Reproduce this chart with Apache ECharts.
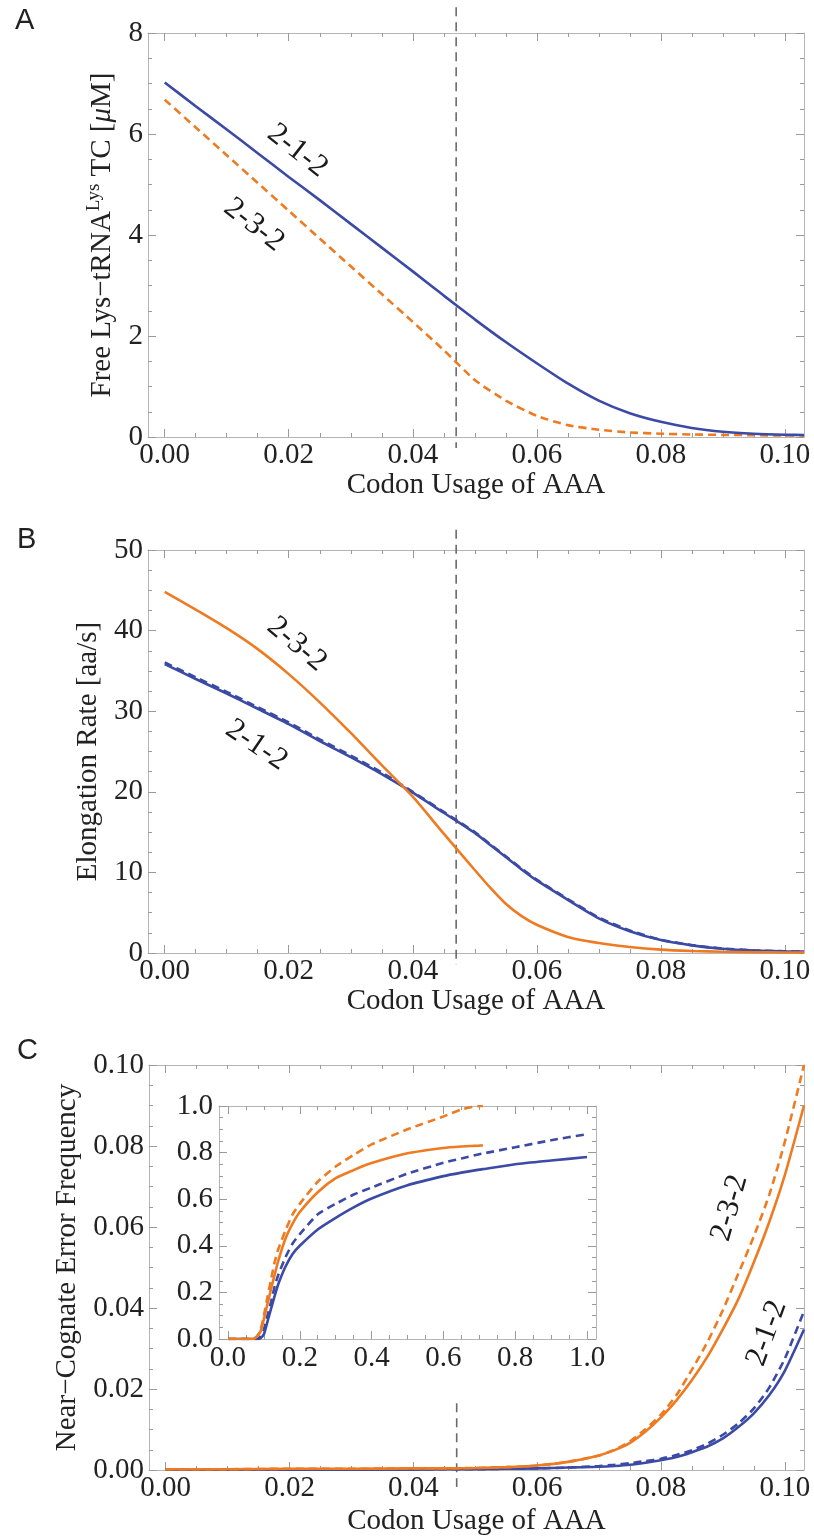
<!DOCTYPE html>
<html><head><meta charset="utf-8">
<script src="https://cdn.jsdelivr.net/npm/echarts@6/dist/echarts.min.js"></script>
<style>html,body{margin:0;padding:0;background:#fff}#c{width:814px;height:1538px}</style>
</head><body><div id="c"></div>
<script>
// ---------- DATA ----------
// Panel A: Free Lys-tRNA^Lys TC [uM] vs codon usage of AAA
const codonA = [0, 0.005, 0.01, 0.015, 0.02, 0.025, 0.03, 0.035, 0.04, 0.045, 0.05, 0.055, 0.06, 0.065, 0.07, 0.075, 0.08, 0.085, 0.09, 0.095, 0.1, 0.1031];
const freeTC_212 = [7.02, 6.55, 6.09, 5.62, 5.15, 4.69, 4.22, 3.75, 3.28, 2.80, 2.33, 1.88, 1.46, 1.06, 0.72, 0.47, 0.3, 0.18, 0.105, 0.065, 0.045, 0.04];
const freeTC_232 = [6.68, 6.13, 5.58, 5.03, 4.48, 3.93, 3.38, 2.83, 2.28, 1.72, 1.13, 0.72, 0.42, 0.235, 0.145, 0.09, 0.065, 0.05, 0.042, 0.036, 0.03, 0.028];

// Panel B: elongation rate [aa/s]
const codonB = [0, 0.005, 0.01, 0.015, 0.02, 0.025, 0.03, 0.035, 0.04, 0.045, 0.05, 0.0525, 0.055, 0.0575, 0.06, 0.065, 0.07, 0.075, 0.08, 0.085, 0.09, 0.095, 0.1, 0.1031];
const rate_232 = [44.8, 42.6, 40.3, 37.7, 34.6, 31.1, 27.3, 23.3, 19.4, 14.8, 10.3, 8.1, 6.1, 4.6, 3.5, 2.0, 1.25, 0.75, 0.42, 0.25, 0.15, 0.1, 0.07, 0.05];
const rate_212 = [35.85, 34.0, 32.2, 30.3, 28.4, 26.3, 24.3, 22.2, 19.9, 17.4, 14.9, 13.4, 11.9, 10.4, 9.0, 6.6, 4.3, 2.7, 1.6, 0.95, 0.52, 0.3, 0.2, 0.17];
const rate_212_dashed = [36.05, 34.2, 32.4, 30.5, 28.6, 26.5, 24.5, 22.4, 20.0, 17.5, 15.0, 13.5, 12.0, 10.5, 9.1, 6.7, 4.4, 2.8, 1.65, 0.98, 0.55, 0.32, 0.21, 0.18];

// Panel C: near-cognate error frequency
const codonC = [0, 0.01, 0.02, 0.03, 0.04, 0.045, 0.05, 0.055, 0.06, 0.065, 0.07, 0.0725, 0.075, 0.0775, 0.08, 0.0825, 0.085, 0.0875, 0.09, 0.0925, 0.095, 0.0975, 0.1, 0.1031];
const err_232 = [0.0002, 0.0002, 0.0003, 0.0003, 0.0004, 0.0004, 0.0005, 0.0007, 0.0011, 0.002, 0.0036, 0.0049, 0.0067, 0.0095, 0.013, 0.0172, 0.0222, 0.028, 0.0348, 0.0422, 0.0513, 0.0613, 0.0728, 0.090];
const err_232_dashed = [0.0002, 0.0002, 0.0003, 0.0003, 0.0004, 0.0004, 0.0005, 0.0007, 0.0011, 0.002, 0.0036, 0.005, 0.0071, 0.0101, 0.0137, 0.0185, 0.0248, 0.0316, 0.0395, 0.0485, 0.0577, 0.068, 0.081, 0.100];
const err_212 = [0.0001, 0.0001, 0.0001, 0.0001, 0.0001, 0.0002, 0.0002, 0.0003, 0.0004, 0.0006, 0.0008, 0.001, 0.0013, 0.0018, 0.0024, 0.0032, 0.0044, 0.0058, 0.0078, 0.0106, 0.014, 0.0185, 0.0245, 0.0347];
const err_212_dashed = [0.0001, 0.0001, 0.0001, 0.0001, 0.0001, 0.0002, 0.0002, 0.0003, 0.0004, 0.0006, 0.001, 0.0013, 0.0017, 0.0022, 0.0028, 0.0037, 0.0049, 0.0065, 0.0087, 0.0115, 0.0152, 0.0204, 0.0275, 0.0392];

// Inset of panel C
const codonInset = [0, 0.05, 0.07, 0.08, 0.09, 0.1, 0.11, 0.12, 0.13, 0.14, 0.16, 0.18, 0.2, 0.25, 0.3, 0.35, 0.4, 0.5, 0.6, 0.65, 0.7, 0.71, 0.8, 0.9, 1.0];
const inset_232_dashed = [0, 0, 0, 0.01, 0.035, 0.1, 0.18, 0.255, 0.33, 0.385, 0.465, 0.535, 0.58, 0.675, 0.74, 0.79, 0.835, 0.9, 0.955, 0.985, 1.0, 1.0, null, null, null];
const inset_232 = [0, 0, 0, 0.01, 0.03, 0.085, 0.15, 0.215, 0.275, 0.335, 0.43, 0.495, 0.545, 0.63, 0.69, 0.725, 0.755, 0.797, 0.82, 0.826, 0.83, 0.831, null, null, null];
const inset_212_dashed = [0, 0, 0, 0, 0.01, 0.04, 0.1, 0.16, 0.225, 0.275, 0.35, 0.41, 0.45, 0.535, 0.58, 0.62, 0.65, 0.71, 0.756, 0.775, 0.793, 0.796, 0.823, 0.853, 0.879];
const inset_212 = [0, 0, 0, 0, 0.003, 0.02, 0.075, 0.13, 0.185, 0.235, 0.31, 0.365, 0.4, 0.47, 0.52, 0.565, 0.603, 0.66, 0.699, 0.714, 0.727, 0.729, 0.75, 0.766, 0.781];

// Reference codon usage (vertical dashed line)
const refUsage = 0.047;

// Tick labels
const xTicksMain = [0, 0.02, 0.04, 0.06, 0.08, 0.10];
const yTicksA = [0, 2, 4, 6, 8];
const yTicksB = [0, 10, 20, 30, 40, 50];
const yTicksC = [0, 0.02, 0.04, 0.06, 0.08, 0.10];
const ticksInset = [0, 0.2, 0.4, 0.6, 0.8, 1.0];

// Curve labels
const curveNames = ['2-1-2', '2-3-2'];

// ---------- STYLE ----------
const FONT = 'Liberation Serif';
const TXT = '#222';
const BLUE = '#3b4aa5';
const ORANGE = '#ee7b22';
const FRAME = '#b5b5b5';
const TICK = '#9a9a9a';
const FS = 29;

function steps(a, b, s) { const r = []; for (let v = a; v <= b + 1e-9; v += s) r.push(+v.toFixed(6)); return r; }

function axesFor(gi, dim, range, majors, minors, fmt, labelMargin, name, nameGap, nameStyle) {
  const pos = dim === 'x' ? ['bottom', 'top'] : ['left', 'right'];
  const base = { gridIndex: gi, type: 'value', min: range[0], max: range[1], splitLine: { show: false }, axisPointer: { show: false }, silent: true };
  const line = { show: true, onZero: false, lineStyle: { color: FRAME, width: 1 } };
  const noLine = { show: false, onZero: false };
  const tk = (vals, len) => ({ show: true, inside: true, length: len, customValues: vals, lineStyle: { color: TICK, width: 1 } });
  const main = Object.assign({}, base, {
    position: pos[0], axisLine: line, axisTick: tk(majors, 8),
    axisLabel: { show: true, customValues: majors, formatter: fmt, margin: labelMargin, fontFamily: FONT, fontSize: FS, color: TXT }
  });
  if (name) {
    Object.assign(main, { name: name, nameLocation: 'middle', nameGap: nameGap,
      nameTextStyle: Object.assign({ fontFamily: FONT, fontSize: FS, color: TXT }, nameStyle || {}) });
    if (dim === 'y') main.nameRotate = 90;
  }
  return [
    main,
    Object.assign({}, base, { position: pos[0], axisLine: noLine, axisTick: tk(minors, 4), axisLabel: { show: false } }),
    Object.assign({}, base, { position: pos[1], axisLine: line, axisTick: tk(majors, 8), axisLabel: { show: false } }),
    Object.assign({}, base, { position: pos[1], axisLine: noLine, axisTick: tk(minors, 4), axisLabel: { show: false } })
  ];
}

const xRange = [-0.0027, 0.1031];
const fmt2 = v => v.toFixed(2);
const fmt1 = v => v.toFixed(1);
const fmt0 = v => String(Math.round(v));
const xMinor = steps(0, 0.1, 0.005);

const grids = [
  { left: 148, top: 33, width: 656, height: 404 },
  { left: 148, top: 550, width: 656, height: 403 },
  { left: 149, top: 1065, width: 655, height: 405 },
  { left: 219, top: 1106, width: 377, height: 233 }
];

const xAxes = [].concat(
  axesFor(0, 'x', xRange, xTicksMain, xMinor, fmt2, 4, 'Codon Usage of AAA', 33),
  axesFor(1, 'x', xRange, xTicksMain, xMinor, fmt2, 4, 'Codon Usage of AAA', 33),
  axesFor(2, 'x', xRange, xTicksMain, xMinor, fmt2, 4, 'Codon Usage of AAA', 37),
  axesFor(3, 'x', [-0.025, 1.025], ticksInset, steps(0, 1, 0.05), fmt1, 5)
);
const yAxes = [].concat(
  axesFor(0, 'y', [0, 8], yTicksA, steps(0, 8, 0.5), fmt0, 5,
    'Free Lys\u2212tRNA{sup|Lys} TC [{it|\u03bc}M]', 29,
    { rich: { sup: { fontFamily: FONT, fontSize: 19, color: TXT, verticalAlign: 'top', lineHeight: 34 },
              it: { fontFamily: FONT, fontSize: FS, color: TXT, fontStyle: 'italic' } } }),
  axesFor(1, 'y', [0, 50], yTicksB, steps(0, 50, 2.5), fmt0, 5, 'Elongation Rate [aa/s]', 45),
  axesFor(2, 'y', [0, 0.1], yTicksC, steps(0, 0.1, 0.005), fmt2, 5, 'Near\u2212Cognate Error Frequency', 63),
  axesFor(3, 'y', [0, 1], ticksInset, steps(0, 1, 0.05), fmt1, 6)
);

function curve(ai, xs, ys, color, dashed) {
  return {
    type: 'line', xAxisIndex: ai * 4, yAxisIndex: ai * 4,
    data: xs.map((x, i) => [x, ys[i]]).filter(d => d[1] !== null && d[1] !== undefined),
    symbol: 'none', showSymbol: false, smooth: 0.2, silent: true,
    lineStyle: { color: color, width: 2.6, type: dashed ? [8, 5] : 'solid' }, z: 3
  };
}
function refLine(ai, yTop, yBottom) {
  return {
    type: 'line', xAxisIndex: ai * 4, yAxisIndex: ai * 4, clip: false, silent: true,
    data: [[refUsage, yTop], [refUsage, yBottom]], symbol: 'none',
    lineStyle: { color: '#6a6a6a', width: 1.6, type: [9, 6] }, z: 2
  };
}
function labels(ai, items) {
  return {
    type: 'scatter', xAxisIndex: ai * 4, yAxisIndex: ai * 4, symbolSize: 2, silent: true,
    itemStyle: { color: 'rgba(255,255,255,0)', opacity: 1 },
    labelLayout: { hideOverlap: false },
    label: { show: true, position: 'inside', formatter: '{b}', fontFamily: FONT, fontSize: 31, color: '#1a1a1a',
             textBorderWidth: 0, opacity: 1 },
    data: items.map(it => ({ name: it[0], value: [it[1], it[2]], label: { show: true, rotate: it[3] } })), z: 5
  };
}

const series = [
  refLine(0, 8.51, -0.22),
  curve(0, codonA, freeTC_232, ORANGE, true),
  curve(0, codonA, freeTC_212, BLUE, false),
  labels(0, [[curveNames[0], 0.0214, 5.67, -38], [curveNames[1], 0.0144, 4.2, -38]]),

  refLine(1, 52.5, -1.5),
  curve(1, codonB, rate_212_dashed, BLUE, true),
  curve(1, codonB, rate_212, BLUE, false),
  curve(1, codonB, rate_232, ORANGE, false),
  labels(1, [[curveNames[1], 0.0213, 38.3, -40], [curveNames[0], 0.0148, 25.8, -34]]),

  refLine(2, 0.0165, -0.0042),
  curve(2, codonC, err_212_dashed, BLUE, true),
  curve(2, codonC, err_212, BLUE, false),
  curve(2, codonC, err_232_dashed, ORANGE, true),
  curve(2, codonC, err_232, ORANGE, false),
  labels(2, [[curveNames[1], 0.0911, 0.0647, 74], [curveNames[0], 0.0971, 0.0338, 70]]),

  curve(3, codonInset, inset_212_dashed, BLUE, true),
  curve(3, codonInset, inset_212, BLUE, false),
  curve(3, codonInset, inset_232_dashed, ORANGE, true),
  curve(3, codonInset, inset_232, ORANGE, false)
];

const chart = echarts.init(document.getElementById('c'), null, { renderer: 'canvas' });
chart.setOption({
  backgroundColor: '#ffffff',
  animation: false,
  grid: grids,
  xAxis: xAxes,
  yAxis: yAxes,
  graphic: [
    { type: 'text', left: 15, top: 6, style: { text: 'A', font: '29px "Liberation Sans"', fill: TXT } },
    { type: 'text', left: 17, top: 525, style: { text: 'B', font: '29px "Liberation Sans"', fill: TXT } },
    { type: 'text', left: 17, top: 1036, style: { text: 'C', font: '29px "Liberation Sans"', fill: TXT } }
  ],
  series: series
});
</script>
</body></html>
